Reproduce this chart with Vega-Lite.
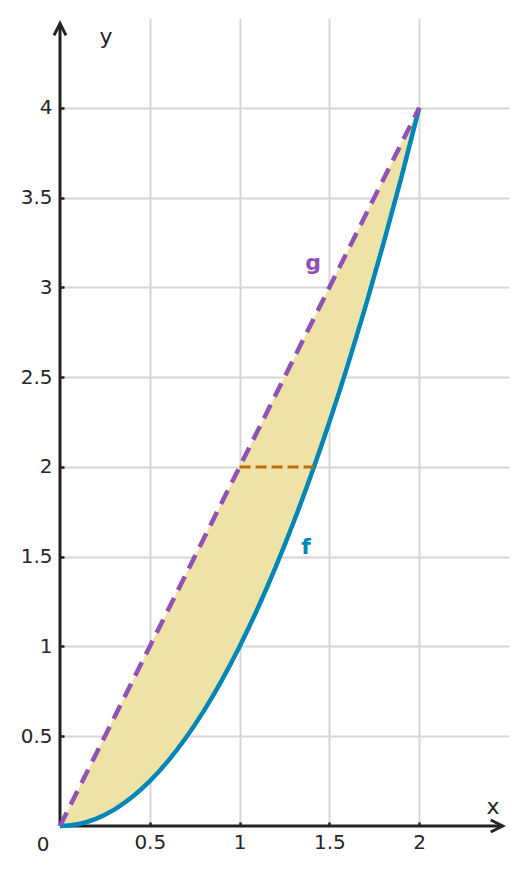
{
  "$schema": "https://vega.github.io/schema/vega-lite/v6.json",
  "autosize": "none",
  "width": 449,
  "height": 808,
  "padding": {"left": 60, "top": 18, "right": 17, "bottom": 48},
  "background": "white",
  "config": {"view": {"stroke": null}, "font": "DejaVu Sans"},
  "datasets": {
    "curves": [
      {"x": 0, "f": 0, "g": 0},
      {"x": 0.1, "f": 0.01, "g": 0.2},
      {"x": 0.2, "f": 0.04, "g": 0.4},
      {"x": 0.3, "f": 0.09, "g": 0.6},
      {"x": 0.4, "f": 0.16, "g": 0.8},
      {"x": 0.5, "f": 0.25, "g": 1.0},
      {"x": 0.6, "f": 0.36, "g": 1.2},
      {"x": 0.7, "f": 0.49, "g": 1.4},
      {"x": 0.8, "f": 0.64, "g": 1.6},
      {"x": 0.9, "f": 0.81, "g": 1.8},
      {"x": 1.0, "f": 1.0, "g": 2.0},
      {"x": 1.1, "f": 1.21, "g": 2.2},
      {"x": 1.2, "f": 1.44, "g": 2.4},
      {"x": 1.3, "f": 1.69, "g": 2.6},
      {"x": 1.4, "f": 1.96, "g": 2.8},
      {"x": 1.5, "f": 2.25, "g": 3.0},
      {"x": 1.6, "f": 2.56, "g": 3.2},
      {"x": 1.7, "f": 2.89, "g": 3.4},
      {"x": 1.8, "f": 3.24, "g": 3.6},
      {"x": 1.9, "f": 3.61, "g": 3.8},
      {"x": 2.0, "f": 4.0, "g": 4.0}
    ],
    "one": [{"id": 1}]
  },
  "layer": [
    {
      "data": {"name": "curves"},
      "mark": {"type": "area", "color": "#eee2a6", "interpolate": "monotone"},
      "encoding": {
        "x": {"field": "x", "type": "quantitative", "scale": {"domain": [0, 2.5], "nice": false},
          "axis": {"values": [0.5, 1, 1.5, 2], "format": "~g", "domain": false, "grid": true, "gridColor": "#d6d6d6", "gridWidth": 2,
            "ticks": true, "tickColor": "#222222", "tickWidth": 2.5, "tickSize": -4,
            "labelFontSize": 20, "labelColor": "#262626", "labelPadding": 10, "title": null, "labelFont": "DejaVu Sans", "labelFontWeight": "normal"}},
        "y": {"field": "g", "type": "quantitative", "scale": {"domain": [0, 4.5], "nice": false},
          "axis": {"values": [0.5, 1, 1.5, 2, 2.5, 3, 3.5, 4], "format": "~g", "domain": false, "grid": true, "gridColor": "#d6d6d6", "gridWidth": 2,
            "ticks": true, "tickColor": "#222222", "tickWidth": 2.5, "tickSize": -4,
            "labelFontSize": 20, "labelColor": "#262626", "labelPadding": 12, "title": null, "labelFont": "DejaVu Sans", "labelFontWeight": "normal"}},
        "y2": {"field": "f"}
      }
    },
    {
      "data": {"name": "one"},
      "mark": {"type": "rule", "color": "#222222", "strokeWidth": 3},
      "encoding": {"x": {"datum": 0}, "x2": {"datum": 2.46}, "y": {"datum": 0}}
    },
    {
      "data": {"name": "one"},
      "mark": {"type": "rule", "color": "#222222", "strokeWidth": 3},
      "encoding": {"x": {"datum": 0}, "y": {"datum": 0}, "y2": {"datum": 4.46}}
    },
    {
      "data": {"name": "one"},
      "mark": {"type": "point", "shape": "M-2,-1L0,0L-2,1", "size": 144, "filled": false, "stroke": "#222222", "strokeWidth": 3, "opacity": 1},
      "encoding": {"x": {"datum": 2.465}, "y": {"datum": 0}}
    },
    {
      "data": {"name": "one"},
      "mark": {"type": "point", "shape": "M-2,-1L0,0L-2,1", "size": 144, "filled": false, "stroke": "#222222", "strokeWidth": 3, "opacity": 1, "angle": -90},
      "encoding": {"x": {"datum": 0}, "y": {"datum": 4.47}}
    },
    {
      "data": {"name": "curves"},
      "mark": {"type": "line", "color": "#0087b8", "strokeWidth": 4.5, "interpolate": "monotone"},
      "encoding": {"x": {"field": "x", "type": "quantitative"}, "y": {"field": "f", "type": "quantitative"}}
    },
    {
      "data": {"name": "curves"},
      "mark": {"type": "line", "color": "#9150b5", "strokeWidth": 4.5, "strokeDash": [15, 9]},
      "encoding": {"x": {"field": "x", "type": "quantitative"}, "y": {"field": "g", "type": "quantitative"}}
    },
    {
      "data": {"name": "one"},
      "mark": {"type": "rule", "color": "#c06a08", "strokeWidth": 3, "strokeDash": [11, 5]},
      "encoding": {"x": {"datum": 1}, "x2": {"datum": 1.414}, "y": {"datum": 2}}
    },
    {
      "data": {"name": "one"},
      "mark": {"type": "text", "fontSize": 22, "fill": "#262626", "align": "center", "baseline": "middle"},
      "encoding": {"x": {"datum": 2.411}, "y": {"datum": 0.106}, "text": {"value": "x"}}
    },
    {
      "data": {"name": "one"},
      "mark": {"type": "text", "fontSize": 22, "fill": "#262626", "align": "center", "baseline": "middle"},
      "encoding": {"x": {"datum": 0.256}, "y": {"datum": 4.394}, "text": {"value": "y"}}
    },
    {
      "data": {"name": "one"},
      "mark": {"type": "text", "fontSize": 20, "fill": "#262626", "align": "center", "baseline": "middle", "dx": -17, "dy": 19},
      "encoding": {"x": {"datum": 0}, "y": {"datum": 0}, "text": {"value": "0"}}
    },
    {
      "data": {"name": "one"},
      "mark": {"type": "text", "fontSize": 22, "fontWeight": "bold", "fill": "#9150b5", "align": "center", "baseline": "middle"},
      "encoding": {"x": {"datum": 1.409}, "y": {"datum": 3.135}, "text": {"value": "g"}}
    },
    {
      "data": {"name": "one"},
      "mark": {"type": "text", "fontSize": 22, "fontWeight": "bold", "fill": "#0087b8", "align": "center", "baseline": "middle"},
      "encoding": {"x": {"datum": 1.37}, "y": {"datum": 1.554}, "text": {"value": "f"}}
    }
  ]
}
